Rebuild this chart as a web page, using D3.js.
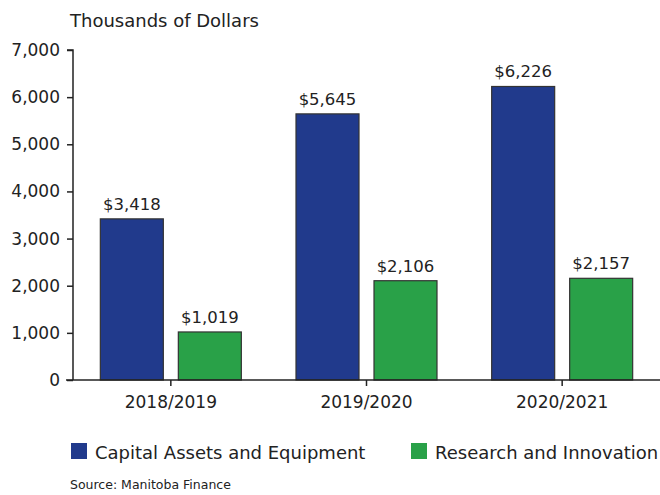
<!DOCTYPE html>
<html>
<head>
<meta charset="utf-8">
<script src="https://cdn.jsdelivr.net/npm/d3@7"></script>
<style>
  body { margin: 0; background: #fff; }
  svg text { font-family: "DejaVu Sans", sans-serif; fill: #222; }
</style>
</head>
<body>
<svg id="chart" width="660" height="495"></svg>
<script>
const years = ["2018/2019", "2019/2020", "2020/2021"];
const seriesNames = ["Capital Assets and Equipment", "Research and Innovation"];
const capital = [3418, 5645, 6226];
const research = [1019, 2106, 2157];
const yTicks = [0, 1000, 2000, 3000, 4000, 5000, 6000, 7000];
const colors = ["#213a8c", "#29a148"];

let svg = d3.select("#chart");

let x = d3.scaleBand()
    .domain(years)
    .range([73, 660]);

let y = d3.scaleLinear()
    .domain([0, 7000])
    .range([380, 50]);

let barW = 63, gap = 15;
let inner = d3.scaleBand()
    .domain(seriesNames)
    .range([-(barW + gap / 2), barW + gap / 2])
    .paddingInner(gap / (barW + gap));

// y axis
let yAxis = svg.append("g")
    .attr("transform", "translate(73,0)")
    .call(d3.axisLeft(y).tickValues(yTicks).tickSize(6).tickPadding(7)
        .tickFormat(d3.format(",")));
yAxis.select(".domain").attr("stroke", "#222").attr("stroke-width", 1.5)
    .attr("d", "M-6,50H0V380");
yAxis.selectAll(".tick line").attr("stroke", "#222").attr("stroke-width", 1.5);
yAxis.selectAll(".tick text").style("font-size", "17px");

// bars
let data = [];
years.forEach(function(yr, i) {
    data.push({ year: yr, name: seriesNames[0], value: capital[i], color: colors[0] });
    data.push({ year: yr, name: seriesNames[1], value: research[i], color: colors[1] });
});

let bars = svg.append("g").attr("class", "bars");
bars.selectAll("rect")
    .data(data).enter()
    .append("rect")
    .attr("x", function(d) { return x(d.year) + x.bandwidth() / 2 + inner(d.name); })
    .attr("y", function(d) { return y(d.value); })
    .attr("width", inner.bandwidth())
    .attr("height", function(d) { return y(0) - y(d.value); })
    .attr("fill", function(d) { return d.color; })
    .attr("stroke", "#333")
    .attr("stroke-width", 1.2);

bars.selectAll("text")
    .data(data).enter()
    .append("text")
    .attr("x", function(d) { return x(d.year) + x.bandwidth() / 2 + inner(d.name) + inner.bandwidth() / 2; })
    .attr("y", function(d) { return y(d.value) - 9; })
    .attr("text-anchor", "middle")
    .style("font-size", "16.5px")
    .text(function(d) { return "$" + d3.format(",")(d.value); });

// x axis
let xAxis = svg.append("g")
    .attr("transform", "translate(0,380)")
    .call(d3.axisBottom(x).tickSize(6).tickPadding(10));
xAxis.select(".domain").attr("stroke", "#222").attr("stroke-width", 1.5)
    .attr("d", "M66,0H660");
xAxis.selectAll(".tick line").attr("stroke", "#222").attr("stroke-width", 1.5);
xAxis.selectAll(".tick text").style("font-size", "17px");

// title
svg.append("text")
    .attr("x", 70).attr("y", 27)
    .style("font-size", "18px")
    .text("Thousands of Dollars");

// legend
let legendX = [71, 411];
let legend = svg.append("g").attr("class", "legend");
seriesNames.forEach(function(name, i) {
    legend.append("rect")
        .attr("x", legendX[i]).attr("y", 443)
        .attr("width", 16).attr("height", 16)
        .attr("fill", colors[i]);
    legend.append("text")
        .attr("x", legendX[i] + 24).attr("y", 459)
        .style("font-size", "18px")
        .text(name);
});

svg.append("text")
    .attr("x", 70).attr("y", 489)
    .style("font-size", "12.5px")
    .text("Source: Manitoba Finance");
</script>
</body>
</html>
